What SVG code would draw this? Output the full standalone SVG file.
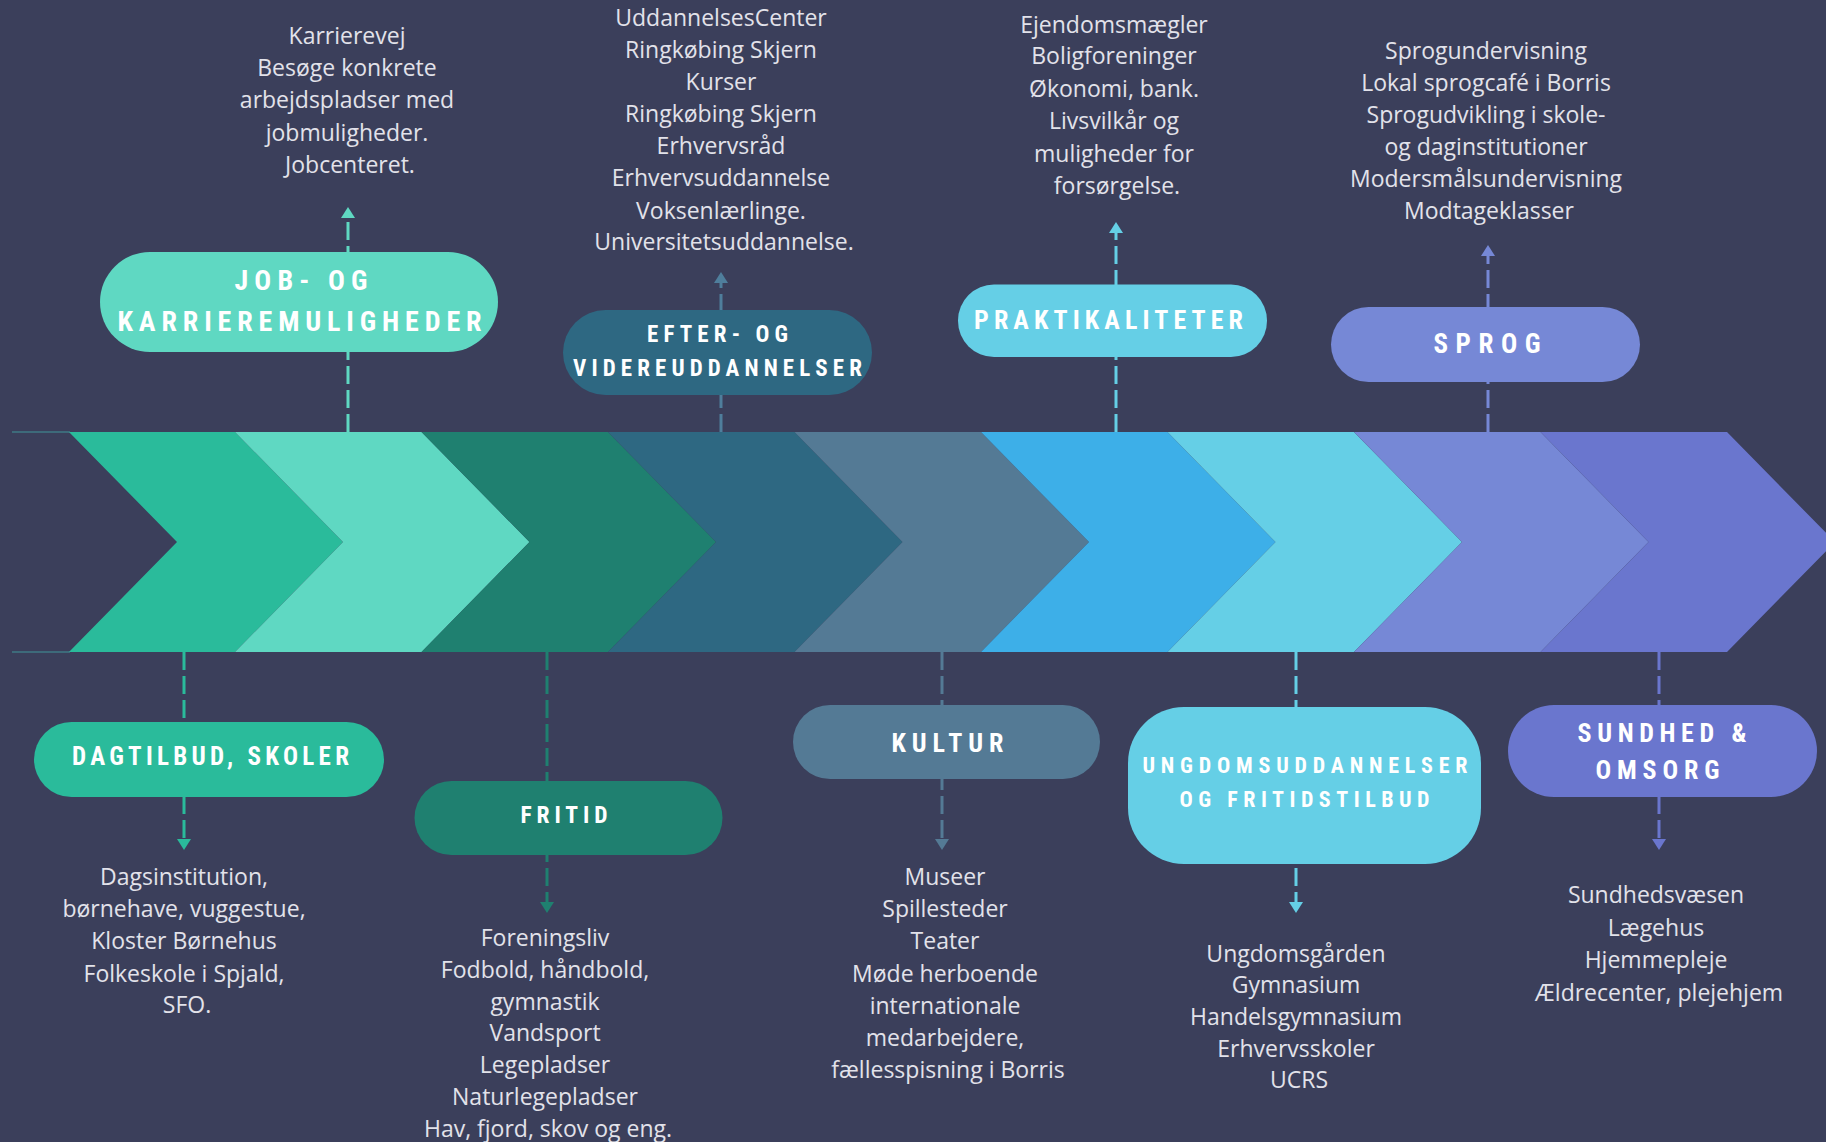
<svg xmlns="http://www.w3.org/2000/svg" width="1826" height="1142" viewBox="0 0 1826 1142">
  <style>
    .title { font-family: "Roboto Condensed", Roboto, "DejaVu Sans Condensed", sans-serif; font-stretch: condensed; font-weight: 700; fill: #FFFFFF; text-anchor: middle; }
    .desc { font-family: "Open Sans", "Noto Sans", "Liberation Sans", sans-serif; font-size: 23px; fill: #E2E2EA; text-anchor: middle; }
    .conn { fill: none; stroke-width: 3; stroke-dasharray: 18 6; }
  </style>
  <defs>
    <marker id="ah-job" viewBox="0 0 11 14" refX="0" refY="7" markerWidth="11" markerHeight="14" markerUnits="userSpaceOnUse" orient="auto"><path d="M0,0 L11,7 L0,14 Z" fill="#5FD8C2"/></marker>
    <marker id="ah-efter" viewBox="0 0 11 14" refX="0" refY="7" markerWidth="11" markerHeight="14" markerUnits="userSpaceOnUse" orient="auto"><path d="M0,0 L11,7 L0,14 Z" fill="#4F7E9C"/></marker>
    <marker id="ah-prak" viewBox="0 0 11 14" refX="0" refY="7" markerWidth="11" markerHeight="14" markerUnits="userSpaceOnUse" orient="auto"><path d="M0,0 L11,7 L0,14 Z" fill="#65CFE6"/></marker>
    <marker id="ah-sprog" viewBox="0 0 11 14" refX="0" refY="7" markerWidth="11" markerHeight="14" markerUnits="userSpaceOnUse" orient="auto"><path d="M0,0 L11,7 L0,14 Z" fill="#7688D6"/></marker>
    <marker id="ah-dag" viewBox="0 0 11 14" refX="0" refY="7" markerWidth="11" markerHeight="14" markerUnits="userSpaceOnUse" orient="auto"><path d="M0,0 L11,7 L0,14 Z" fill="#2ABB9B"/></marker>
    <marker id="ah-fritid" viewBox="0 0 11 14" refX="0" refY="7" markerWidth="11" markerHeight="14" markerUnits="userSpaceOnUse" orient="auto"><path d="M0,0 L11,7 L0,14 Z" fill="#1F8070"/></marker>
    <marker id="ah-kultur" viewBox="0 0 11 14" refX="0" refY="7" markerWidth="11" markerHeight="14" markerUnits="userSpaceOnUse" orient="auto"><path d="M0,0 L11,7 L0,14 Z" fill="#547A95"/></marker>
    <marker id="ah-ung" viewBox="0 0 11 14" refX="0" refY="7" markerWidth="11" markerHeight="14" markerUnits="userSpaceOnUse" orient="auto"><path d="M0,0 L11,7 L0,14 Z" fill="#65CFE6"/></marker>
    <marker id="ah-sund" viewBox="0 0 11 14" refX="0" refY="7" markerWidth="11" markerHeight="14" markerUnits="userSpaceOnUse" orient="auto"><path d="M0,0 L11,7 L0,14 Z" fill="#6A76CE"/></marker>
  </defs>

  <rect x="0" y="0" width="1826" height="1142" fill="#3B3F5B"/>

  <g id="band">
    <line x1="12" y1="432" x2="70" y2="432" stroke="#3F7A84" stroke-width="1.5"/>
    <line x1="12" y1="652" x2="70" y2="652" stroke="#3F7A84" stroke-width="1.5"/>
    <polygon points="69,432 235,432 343,542 235,652 69,652 177,542" fill="#2ABB9B"/>
    <polygon points="235,432 421.5,432 529.5,542 421.5,652 235,652 343,542" fill="#5FD8C2"/>
    <polygon points="421.5,432 608,432 716,542 608,652 421.5,652 529.5,542" fill="#1F8070"/>
    <polygon points="608,432 794.5,432 902.5,542 794.5,652 608,652 716,542" fill="#2E6882"/>
    <polygon points="794.5,432 981,432 1089,542 981,652 794.5,652 902.5,542" fill="#547A95"/>
    <polygon points="981,432 1167.5,432 1275.5,542 1167.5,652 981,652 1089,542" fill="#3DAFE8"/>
    <polygon points="1167.5,432 1354,432 1462,542 1354,652 1167.5,652 1275.5,542" fill="#65CFE6"/>
    <polygon points="1354,432 1540.5,432 1648.5,542 1540.5,652 1354,652 1462,542" fill="#7688D6"/>
    <polygon points="1540.5,432 1727,432 1835,542 1727,652 1540.5,652 1648.5,542" fill="#6A76CE"/>
  </g>

  <g id="connectors">
    <line class="conn" x1="348" y1="432" x2="348" y2="218" stroke="#5FD8C2" marker-end="url(#ah-job)"/>
    <line class="conn" x1="721" y1="432" x2="721" y2="283" stroke="#4F7E9C" marker-end="url(#ah-efter)"/>
    <line class="conn" x1="1116" y1="432" x2="1116" y2="233" stroke="#65CFE6" marker-end="url(#ah-prak)"/>
    <line class="conn" x1="1488" y1="432" x2="1488" y2="256" stroke="#7688D6" marker-end="url(#ah-sprog)"/>
    <line class="conn" x1="184" y1="652" x2="184" y2="839" stroke="#2ABB9B" marker-end="url(#ah-dag)"/>
    <line class="conn" x1="547" y1="652" x2="547" y2="902" stroke="#1F8070" marker-end="url(#ah-fritid)"/>
    <line class="conn" x1="942" y1="652" x2="942" y2="839" stroke="#547A95" marker-end="url(#ah-kultur)"/>
    <line class="conn" x1="1296" y1="652" x2="1296" y2="902" stroke="#65CFE6" marker-end="url(#ah-ung)"/>
    <line class="conn" x1="1659" y1="652" x2="1659" y2="839" stroke="#6A76CE" marker-end="url(#ah-sund)"/>
  </g>

  <g id="node-job">
    <rect x="100" y="252" width="398" height="100" rx="50" fill="#5FD8C2"/>
    <text class="title" x="301" y="290" font-size="28" textLength="133" lengthAdjust="spacing">JOB- OG</text>
    <text class="title" x="299.5" y="331" font-size="28" textLength="364" lengthAdjust="spacing">KARRIEREMULIGHEDER</text>
    <text class="desc">
      <tspan x="350" y="44">Karrierevej</tspan>
      <tspan x="350" y="76">Besøge konkrete</tspan>
      <tspan x="350" y="108">arbejdspladser med</tspan>
      <tspan x="350" y="141">jobmuligheder.</tspan>
      <tspan x="350" y="173">Jobcenteret.</tspan>
    </text>
  </g>

  <g id="node-efter">
    <rect x="563" y="310" width="309" height="85" rx="42.5" fill="#2E6882"/>
    <text class="title" x="717.5" y="341.5" font-size="23" textLength="141" lengthAdjust="spacing">EFTER- OG</text>
    <text class="title" x="717.5" y="376" font-size="23" textLength="289" lengthAdjust="spacing">VIDEREUDDANNELSER</text>
    <text class="desc">
      <tspan x="724" y="25.5">UddannelsesCenter</tspan>
      <tspan x="724" y="58">Ringkøbing Skjern</tspan>
      <tspan x="724" y="90">Kurser</tspan>
      <tspan x="724" y="122">Ringkøbing Skjern</tspan>
      <tspan x="724" y="154">Erhvervsråd</tspan>
      <tspan x="724" y="186">Erhvervsuddannelse</tspan>
      <tspan x="724" y="218.5">Voksenlærlinge.</tspan>
      <tspan x="724" y="250">Universitetsuddannelse.</tspan>
    </text>
  </g>

  <g id="node-praktikaliteter">
    <rect x="958" y="284.5" width="309" height="72.5" rx="36" fill="#65CFE6"/>
    <text class="title" x="1108.5" y="329.3" font-size="26" textLength="269" lengthAdjust="spacing">PRAKTIKALITETER</text>
    <text class="desc">
      <tspan x="1117" y="32.5">Ejendomsmægler</tspan>
      <tspan x="1117" y="64">Boligforeninger</tspan>
      <tspan x="1117" y="96.5">Økonomi, bank.</tspan>
      <tspan x="1117" y="129">Livsvilkår og</tspan>
      <tspan x="1117" y="161.5">muligheder for</tspan>
      <tspan x="1117" y="194">forsørgelse.</tspan>
    </text>
  </g>

  <g id="node-sprog">
    <rect x="1331" y="307" width="309" height="75" rx="37.5" fill="#7688D6"/>
    <text class="title" x="1487" y="353" font-size="27" textLength="107" lengthAdjust="spacing">SPROG</text>
    <text class="desc">
      <tspan x="1489" y="59.3">Sprogundervisning</tspan>
      <tspan x="1489" y="91.3">Lokal sprogcafé i Borris</tspan>
      <tspan x="1489" y="123.3">Sprogudvikling i skole-</tspan>
      <tspan x="1489" y="155">og daginstitutioner</tspan>
      <tspan x="1489" y="186.7">Modersmålsundervisning</tspan>
      <tspan x="1489" y="218.5">Modtageklasser</tspan>
    </text>
  </g>

  <g id="node-dagtilbud">
    <rect x="34" y="722" width="350" height="75" rx="37.5" fill="#2ABB9B"/>
    <text class="title" x="210.5" y="765" font-size="25" textLength="277" lengthAdjust="spacing">DAGTILBUD, SKOLER</text>
    <text class="desc">
      <tspan x="187" y="884.5">Dagsinstitution,</tspan>
      <tspan x="187" y="916.5">børnehave, vuggestue,</tspan>
      <tspan x="187" y="949">Kloster Børnehus</tspan>
      <tspan x="187" y="981.5">Folkeskole i Spjald,</tspan>
      <tspan x="187" y="1013">SFO.</tspan>
    </text>
  </g>

  <g id="node-fritid">
    <rect x="414.5" y="781" width="308" height="74" rx="37" fill="#1F8070"/>
    <text class="title" x="564" y="823.3" font-size="23.5" textLength="87" lengthAdjust="spacing">FRITID</text>
    <text class="desc">
      <tspan x="548" y="946">Foreningsliv</tspan>
      <tspan x="548" y="977.8">Fodbold, håndbold,</tspan>
      <tspan x="548" y="1009.6">gymnastik</tspan>
      <tspan x="548" y="1041.4">Vandsport</tspan>
      <tspan x="548" y="1073.2">Legepladser</tspan>
      <tspan x="548" y="1105">Naturlegepladser</tspan>
      <tspan x="548" y="1136.8">Hav, fjord, skov og eng.</tspan>
    </text>
  </g>

  <g id="node-kultur">
    <rect x="793" y="705" width="307" height="74" rx="37" fill="#547A95"/>
    <text class="title" x="947.5" y="751.5" font-size="26" textLength="112" lengthAdjust="spacing">KULTUR</text>
    <text class="desc">
      <tspan x="948" y="885">Museer</tspan>
      <tspan x="948" y="917.2">Spillesteder</tspan>
      <tspan x="948" y="949.4">Teater</tspan>
      <tspan x="948" y="981.6">Møde herboende</tspan>
      <tspan x="948" y="1013.8">internationale</tspan>
      <tspan x="948" y="1046">medarbejdere,</tspan>
      <tspan x="948" y="1078.2">fællesspisning i Borris</tspan>
    </text>
  </g>

  <g id="node-ungdom">
    <rect x="1128" y="707" width="353" height="157" rx="56" fill="#65CFE6"/>
    <text class="title" x="1305" y="773.3" font-size="22" textLength="325" lengthAdjust="spacing">UNGDOMSUDDANNELSER</text>
    <text class="title" x="1304.5" y="807.3" font-size="22" textLength="250" lengthAdjust="spacing">OG FRITIDSTILBUD</text>
    <text class="desc">
      <tspan x="1299" y="961.5">Ungdomsgården</tspan>
      <tspan x="1299" y="993.2">Gymnasium</tspan>
      <tspan x="1299" y="1024.9">Handelsgymnasium</tspan>
      <tspan x="1299" y="1056.6">Erhvervsskoler</tspan>
      <tspan x="1299" y="1088.3">UCRS</tspan>
    </text>
  </g>

  <g id="node-sundhed">
    <rect x="1508" y="705" width="309" height="92" rx="46" fill="#6A76CE"/>
    <text class="title" x="1662" y="741.7" font-size="26" textLength="169" lengthAdjust="spacing">SUNDHED &amp;</text>
    <text class="title" x="1657.5" y="779.3" font-size="26" textLength="124" lengthAdjust="spacing">OMSORG</text>
    <text class="desc">
      <tspan x="1659" y="903">Sundhedsvæsen</tspan>
      <tspan x="1659" y="935.5">Lægehus</tspan>
      <tspan x="1659" y="968">Hjemmepleje</tspan>
      <tspan x="1659" y="1000.5">Ældrecenter, plejehjem</tspan>
    </text>
  </g>
</svg>
